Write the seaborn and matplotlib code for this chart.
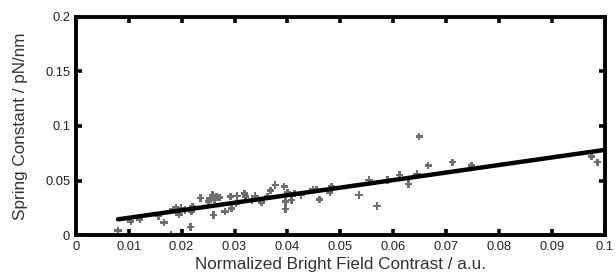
import numpy as np
import pandas as pd
import seaborn as sns
import matplotlib
matplotlib.use("Agg")
import matplotlib.pyplot as plt

## data
contrast = [0.0080, 0.0104, 0.0121, 0.0156, 0.0167, 0.0180, 0.0184, 0.0189, 0.0195, 0.0199,
            0.0206, 0.0217, 0.0219, 0.0221, 0.0236, 0.0251, 0.0254, 0.0258, 0.0260, 0.0262,
            0.0266, 0.0272, 0.0282, 0.0292, 0.0294, 0.0303, 0.0305, 0.0319, 0.0321, 0.0333,
            0.0339, 0.0351, 0.0362, 0.0368, 0.0377, 0.0394, 0.0396, 0.0396, 0.0400, 0.0408,
            0.0413, 0.0426, 0.0448, 0.0455, 0.0461, 0.0480, 0.0483, 0.0535, 0.0554, 0.0569,
            0.0589, 0.0612, 0.0629, 0.0645, 0.0649, 0.0666, 0.0712, 0.0748, 0.0975, 0.0986]
spring = [0.0040, 0.0123, 0.0144, 0.0175, 0.0116, 0.0000, 0.0236, 0.0254, 0.0190, 0.0248,
          0.0230, 0.0074, 0.0214, 0.0263, 0.0340, 0.0306, 0.0334, 0.0368, 0.0184, 0.0328,
          0.0352, 0.0343, 0.0214, 0.0352, 0.0245, 0.0291, 0.0358, 0.0383, 0.0352, 0.0322,
          0.0358, 0.0297, 0.0352, 0.0407, 0.0459, 0.0444, 0.0306, 0.0239, 0.0389, 0.0322,
          0.0383, 0.0368, 0.0420, 0.0420, 0.0328, 0.0389, 0.0444, 0.0368, 0.0505, 0.0266,
          0.0505, 0.0551, 0.0469, 0.0560, 0.0904, 0.0637, 0.0668, 0.0637, 0.0720, 0.0668]

# linear fit line, endpoints
fit_x = [0.008, 0.1]
fit_y = [0.0144, 0.0781]

x_ticks = [0, 0.01, 0.02, 0.03, 0.04, 0.05, 0.06, 0.07, 0.08, 0.09, 0.1]
x_labels = ["0", "0.01", "0.02", "0.03", "0.04", "0.05", "0.06", "0.07", "0.08", "0.09", "0.1"]
y_ticks = [0, 0.05, 0.1, 0.15, 0.2]
y_labels = ["0", "0.05", "0.1", "0.15", "0.2"]

df = pd.DataFrame({"contrast": contrast, "spring": spring})
fit = pd.DataFrame({"x": fit_x, "y": fit_y})

sns.set_theme(style="white")
plt.rcParams['font.family'] = ['Liberation Sans', 'DejaVu Sans']

fig = plt.figure(figsize=(6.16, 2.73), dpi=100)
ax = fig.add_axes([0.123, 0.139, 0.859, 0.799])

sns.scatterplot(data=df, x="contrast", y="spring", marker="P", s=28,
                color="#6e6e6e", edgecolor="none", ax=ax, zorder=2)
sns.lineplot(data=fit, x="x", y="y", color="black", linewidth=3.2, ax=ax, zorder=3)

ax.set_xlim(0, 0.1)
ax.set_ylim(0, 0.2)
ax.set_xticks(x_ticks)
ax.set_xticklabels(x_labels)
ax.set_yticks(y_ticks)
ax.set_yticklabels(y_labels)

for s in ax.spines.values():
    s.set_linewidth(2.8)
    s.set_color("black")
    s.set_visible(True)

ax.tick_params(direction="in", length=4, width=2.6, color="black",
               top=True, right=True, bottom=True, left=True,
               labelsize=9.3, labelcolor="#222222", pad=4)

ax.set_xlabel("Normalized Bright Field Contrast / a.u.", fontsize=12.3, color="#333333", labelpad=3)
ax.set_ylabel("Spring Constant / pN/nm", fontsize=12.3, color="#333333", labelpad=12)

fig.savefig("out.png", dpi=100)
